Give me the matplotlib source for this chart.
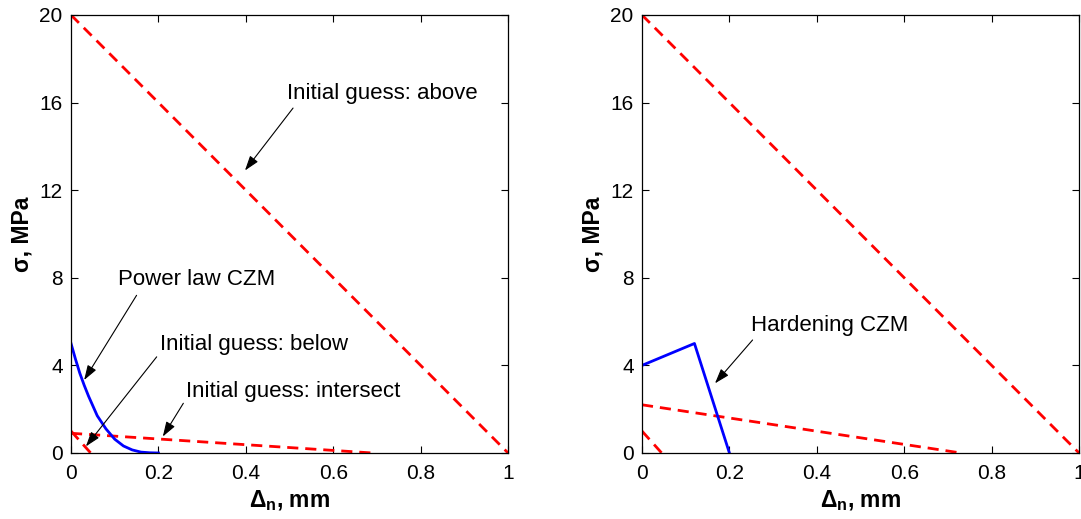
import matplotlib
matplotlib.use("Agg")
import matplotlib.pyplot as plt

plt.rcParams['font.family'] = ['Liberation Sans', 'DejaVu Sans']
plt.rcParams['mathtext.fontset'] = 'custom'
plt.rcParams['mathtext.rm'] = 'Liberation Sans:bold'
plt.rcParams['mathtext.it'] = 'Liberation Sans:bold'
plt.rcParams['mathtext.bf'] = 'Liberation Sans:bold'

# Left panel: power-law cohesive law and three initial guesses
power_x = [0.0, 0.01, 0.02, 0.03, 0.04, 0.06, 0.08, 0.10, 0.12, 0.14, 0.16, 0.18, 0.20]
power_y = [5.0, 4.3, 3.65, 3.1, 2.6, 1.7, 1.1, 0.63, 0.32, 0.14, 0.04, 0.01, 0.0]
left_above_x = [0.0, 1.0]
left_above_y = [20.0, 0.0]
left_intersect_x = [0.0, 0.69]
left_intersect_y = [0.9, 0.0]
left_below_x = [0.0, 0.045]
left_below_y = [1.0, 0.0]

# Right panel: hardening cohesive law and initial guesses
hard_x = [0.0, 0.12, 0.2]
hard_y = [4.0, 5.0, 0.0]
right_above_x = [0.0, 1.0]
right_above_y = [20.0, 0.0]
right_mid_x = [0.0, 0.73]
right_mid_y = [2.2, 0.0]
right_below_x = [0.0, 0.045]
right_below_y = [1.0, 0.0]

x_ticks = [0, 0.2, 0.4, 0.6, 0.8, 1.0]
x_tick_labels = ['0', '0.2', '0.4', '0.6', '0.8', '1']
y_ticks = [0, 4, 8, 12, 16, 20]
y_tick_labels = ['0', '4', '8', '12', '16', '20']

fig = plt.figure(figsize=(10.81, 5.19), dpi=100)
ax1 = fig.add_axes([0.0657, 0.1272, 0.4043, 0.8439])
ax2 = fig.add_axes([0.5939, 0.1272, 0.4043, 0.8439])

dash = dict(color='#ff0000', lw=2.0, dashes=(4, 2.5))
solid = dict(color='#0000ff', lw=2.0)

ax1.plot(left_above_x, left_above_y, **dash)
ax1.plot(left_intersect_x, left_intersect_y, **dash)
ax1.plot(left_below_x, left_below_y, **dash)
ax1.plot(power_x, power_y, **solid)

ax2.plot(right_above_x, right_above_y, **dash)
ax2.plot(right_mid_x, right_mid_y, **dash)
ax2.plot(right_below_x, right_below_y, **dash)
ax2.plot(hard_x, hard_y, **solid)

for ax in (ax1, ax2):
    ax.set_xlim(0, 1)
    ax.set_ylim(0, 20)
    ax.set_xticks(x_ticks)
    ax.set_xticklabels(x_tick_labels)
    ax.set_yticks(y_ticks)
    ax.set_yticklabels(y_tick_labels)
    ax.tick_params(direction='in', top=True, right=True, length=5, width=0.8,
                   labelsize=15)
    ax.tick_params(axis='x', pad=8)
    ax.tick_params(axis='y', pad=6)
    for s in ax.spines.values():
        s.set_linewidth(0.9)
    ax.set_xlabel(r'$\Delta_n$, mm', fontsize=16.5, fontweight='bold', labelpad=4)
    ax.set_ylabel('σ, MPa', fontsize=16.5, fontweight='bold', labelpad=4)

arrow = dict(arrowstyle='-|>,head_length=0.9,head_width=0.3', color='black',
             lw=0.8, shrinkA=0, shrinkB=0)
fs = 16

ax1.text(0.495, 16.4, 'Initial guess: above', fontsize=fs, ha='left', va='center')
ax1.annotate('', xy=(0.398, 12.9), xytext=(0.508, 15.75), arrowprops=arrow)

ax1.text(0.108, 7.9, 'Power law CZM', fontsize=fs, ha='left', va='center')
ax1.annotate('', xy=(0.03, 3.33), xytext=(0.15, 7.2), arrowprops=arrow)

ax1.text(0.203, 4.94, 'Initial guess: below', fontsize=fs, ha='left', va='center')
ax1.annotate('', xy=(0.034, 0.3), xytext=(0.196, 4.39), arrowprops=arrow)

ax1.text(0.263, 2.79, 'Initial guess: intersect', fontsize=fs, ha='left', va='center')
ax1.annotate('', xy=(0.21, 0.75), xytext=(0.257, 2.27), arrowprops=arrow)

ax2.text(0.249, 5.8, 'Hardening CZM', fontsize=fs, ha='left', va='center')
ax2.annotate('', xy=(0.167, 3.18), xytext=(0.253, 5.16), arrowprops=arrow)

fig.savefig('out.png', dpi=100)
